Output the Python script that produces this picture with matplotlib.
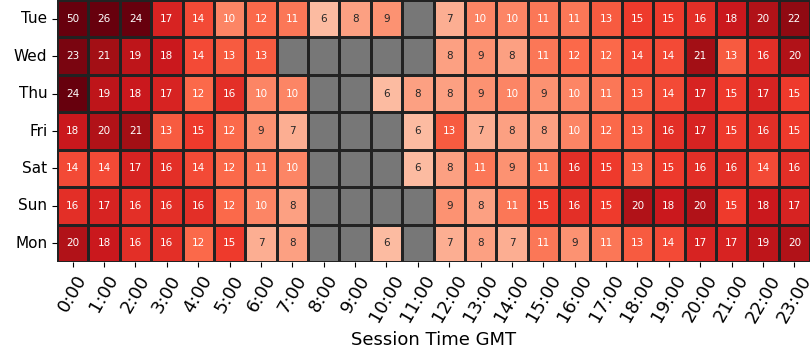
import numpy as np
import matplotlib
matplotlib.use("Agg")
import matplotlib.pyplot as plt
import seaborn as sns

nan = np.nan
days = ["Tue", "Wed", "Thu", "Fri", "Sat", "Sun", "Mon"]
hours = [f"{h}:00" for h in range(24)]

tue = [50, 26, 24, 17, 14, 10, 12, 11, 6, 8, 9, nan, 7, 10, 10, 11, 11, 13, 15, 15, 16, 18, 20, 22]
wed = [23, 21, 19, 18, 14, 13, 13, nan, nan, nan, nan, nan, 8, 9, 8, 11, 12, 12, 14, 14, 21, 13, 16, 20]
thu = [24, 19, 18, 17, 12, 16, 10, 10, nan, nan, 6, 8, 8, 9, 10, 9, 10, 11, 13, 14, 17, 15, 17, 15]
fri = [18, 20, 21, 13, 15, 12, 9, 7, nan, nan, nan, 6, 13, 7, 8, 8, 10, 12, 13, 16, 17, 15, 16, 15]
sat = [14, 14, 17, 16, 14, 12, 11, 10, nan, nan, nan, 6, 8, 11, 9, 11, 16, 15, 13, 15, 16, 16, 14, 16]
sun = [16, 17, 16, 16, 16, 12, 10, 8, nan, nan, nan, nan, 9, 8, 11, 15, 16, 15, 20, 18, 20, 15, 18, 17]
mon = [20, 18, 16, 16, 12, 15, 7, 8, nan, nan, 6, nan, 7, 8, 7, 11, 9, 11, 13, 14, 17, 17, 19, 20]

data = np.array([tue, wed, thu, fri, sat, sun, mon], dtype=float)

fig = plt.figure(figsize=(8.1, 3.6), dpi=100)
ax = fig.add_axes([0.0704, 0.272, 0.9296, 0.728])
ax.set_facecolor("#777777")
sns.heatmap(data, ax=ax, cmap="Reds", vmin=0, vmax=24, annot=True, fmt=".0f",
            annot_kws={"fontsize": 7.5}, linewidths=1, linecolor="#222222",
            cbar=False, mask=np.isnan(data), xticklabels=hours, yticklabels=days)
ax.set_facecolor("#777777")
ax.set_xticklabels(hours, rotation=60, fontsize=13)
ax.set_yticklabels(days, rotation=0, fontsize=11)
ax.set_xlabel("Session Time GMT", fontsize=13)
fig.savefig("out.png", dpi=100)
